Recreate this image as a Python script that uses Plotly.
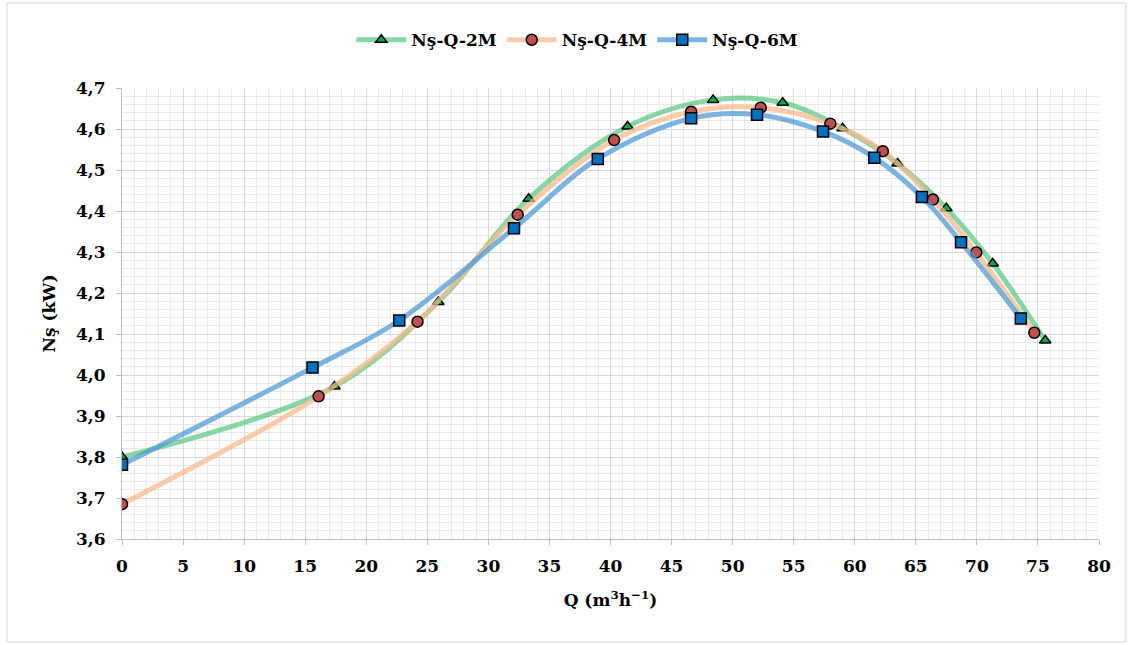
import plotly.graph_objects as go

q_2m = [0, 17.4, 25.9, 33.3, 41.4, 48.4, 54.1, 59.0, 63.5, 67.5, 71.3, 75.6]
n_2m = [3.800, 3.972, 4.178, 4.430, 4.606, 4.671, 4.664, 4.602, 4.516, 4.407, 4.272, 4.084]

q_4m = [0, 16.1, 24.2, 32.4, 40.3, 46.6, 52.3, 58.0, 62.3, 66.4, 69.95, 74.7]
n_4m = [3.685, 3.948, 4.130, 4.391, 4.573, 4.642, 4.652, 4.613, 4.546, 4.428, 4.299, 4.103]

q_6m = [0, 15.6, 22.7, 32.1, 38.96, 46.6, 52.0, 57.4, 61.6, 65.5, 68.7, 73.6]
n_6m = [3.781, 4.018, 4.133, 4.358, 4.527, 4.626, 4.635, 4.594, 4.530, 4.434, 4.324, 4.138]

names = ["Nş-Q-2M", "Nş-Q-4M", "Nş-Q-6M"]

FONT = "DejaVu Serif"
BOLD = dict(family=FONT, size=17, color="black", weight="bold")

fig = go.Figure()
series = [
    (q_2m, n_2m, names[0], "rgba(95,200,135,0.75)", "triangle-up", "#00a84f", 10),
    (q_4m, n_4m, names[1], "rgba(248,185,140,0.75)", "circle", "#c0504d", 11),
    (q_6m, n_6m, names[2], "rgba(80,155,215,0.75)", "square", "#0070c0", 11),
]
for x, y, nm, lc, sym, mc, ms in series:
    fig.add_trace(go.Scatter(
        x=x, y=y, name=nm, mode="lines+markers",
        line=dict(color=lc, width=5, shape="spline", smoothing=1.0),
        marker=dict(symbol=sym, color=mc, size=ms, line=dict(color="black", width=1.5)),
    ))

axis_common = dict(
    showline=True, linecolor="#bfbfbf", linewidth=1,
    showgrid=True, gridcolor="#d9d9d9", gridwidth=1,
    ticks="outside", ticklen=5, tickcolor="#bfbfbf",
    tickfont=BOLD, ticklabelstandoff=7,
    zeroline=False, mirror=False,
)

fig.update_xaxes(
    range=[0, 80], dtick=5, tick0=0,
    minor=dict(dtick=1, showgrid=True, gridcolor="#e9e9e9", gridwidth=1),
    title=dict(text="Q (m<sup>3</sup>h<sup>−1</sup>)", font=BOLD, standoff=18),
    **axis_common,
)
fig.update_yaxes(
    range=[3.6, 4.7], dtick=0.1, tick0=3.6, tickformat=".1f",
    minor=dict(dtick=0.02, showgrid=True, gridcolor="#e9e9e9", gridwidth=1),
    title=dict(text="Nş (kW)", font=BOLD, standoff=16),
    **axis_common,
)

fig.add_shape(type="rect", xref="paper", yref="paper",
              x0=-0.1177, x1=1.0276, y0=-0.2284, y1=1.1885,
              line=dict(color="#d9d9d9", width=1), fillcolor="rgba(0,0,0,0)", layer="below")

fig.update_layout(
    width=1132, height=645,
    margin=dict(l=122, r=33, t=88, b=106),
    paper_bgcolor="white", plot_bgcolor="white",
    separators=",.",
    font=BOLD,
    showlegend=True,
    legend=dict(orientation="h", x=0.466, xanchor="center", y=1.106, yanchor="middle",
                font=BOLD, bgcolor="rgba(0,0,0,0)", itemwidth=50),
)

fig.write_html("out.html")
